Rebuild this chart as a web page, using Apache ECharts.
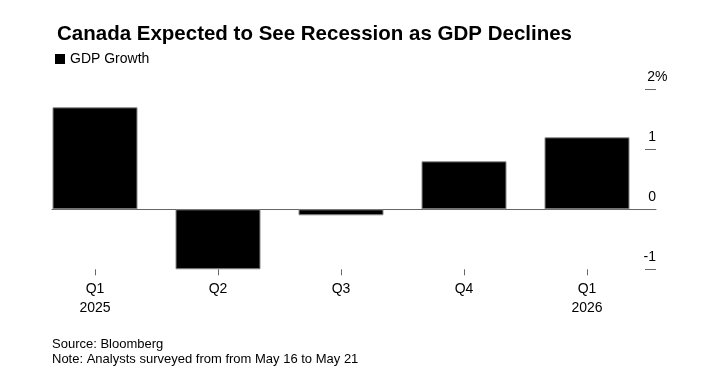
<!DOCTYPE html>
<html>
<head>
<meta charset="utf-8">
<script src="https://cdn.jsdelivr.net/npm/echarts@6/dist/echarts.min.js"></script>
<style>
html,body{margin:0;padding:0;background:#fff;}
#chart{width:702px;height:388px;}
</style>
</head>
<body>
<div id="chart"></div>
<script>
const titleText = 'Canada Expected to See Recession as GDP Declines';
const seriesName = 'GDP Growth';
const categories = ['Q1\n2025', 'Q2', 'Q3', 'Q4', 'Q1\n2026'];
const gdpGrowth = [1.7, -1.0, -0.1, 0.8, 1.2];
const yMin = -1, yMax = 2, yInterval = 1;
const sourceText = 'Source: Bloomberg';
const noteText = 'Note: Analysts surveyed from from May 16 to May 21';

const FONT = '"Liberation Sans", Arial, sans-serif';
const chart = echarts.init(document.getElementById('chart'), null, {renderer: 'canvas'});

const gridTop = 89.3, gridH = 180;

chart.setOption({
  animation: false,
  backgroundColor: '#fff',
  textStyle: {fontFamily: FONT},
  title: {
    text: titleText,
    left: 52, top: 19,
    textStyle: {fontFamily: FONT, fontSize: 20.5, fontWeight: 'bold', color: '#000'}
  },
  legend: {
    left: 50, top: 47,
    icon: 'rect', itemWidth: 10, itemHeight: 10,
    itemStyle: {borderWidth: 0, color: '#000'},
    textStyle: {fontFamily: FONT, fontSize: 14, color: '#000'},
    data: [seriesName]
  },
  grid: [
    {left: 33.5, right: 53.5, top: gridTop, height: gridH},
    {left: 52, right: 46, top: gridTop, height: gridH}
  ],
  xAxis: [
    {
      gridIndex: 0, type: 'category', data: categories,
      axisLine: {show: false, onZero: false},
      axisTick: {show: true, alignWithLabel: true, length: 6, lineStyle: {color: '#666'}},
      axisLabel: {margin: 10, fontSize: 14, lineHeight: 19, color: '#000', fontFamily: FONT}
    },
    {
      gridIndex: 1, type: 'category', data: [''],
      axisLine: {show: true, onZero: true, lineStyle: {color: '#666', width: 1}},
      axisTick: {show: false}, axisLabel: {show: false}
    }
  ],
  yAxis: [
    {gridIndex: 0, type: 'value', min: yMin, max: yMax, interval: yInterval, show: false},
    {
      gridIndex: 1, type: 'value', position: 'right',
      min: yMin, max: yMax, interval: yInterval,
      axisLine: {show: false},
      splitLine: {show: false},
      axisTick: {show: true, inside: true, length: 11, lineStyle: {color: '#666'}},
      axisLabel: {
        inside: true, margin: 0, verticalAlign: 'bottom',
        padding: [0, 0, 5, 0],
        fontSize: 14, color: '#000', fontFamily: FONT,
        formatter: function (v) { return v === yMax ? '{n|' + v + '}{p|%}' : '{n|' + v + '}'; },
        rich: {
          n: {fontSize: 14, color: '#000', fontFamily: FONT, align: 'left'},
          p: {fontSize: 14, color: '#000', fontFamily: FONT, width: 1, align: 'left'}
        }
      }
    }
  ],
  series: [
    {
      name: seriesName, type: 'bar', xAxisIndex: 0, yAxisIndex: 0,
      data: gdpGrowth, barWidth: 85,
      itemStyle: {color: '#000', borderColor: '#8a8a8a', borderWidth: 1}
    }
  ],
  graphic: [
    {
      type: 'text', left: 52, top: 337,
      style: {text: sourceText + '\n' + noteText, font: '13px ' + FONT, lineHeight: 15, fill: '#000'}
    }
  ]
});
</script>
</body>
</html>
